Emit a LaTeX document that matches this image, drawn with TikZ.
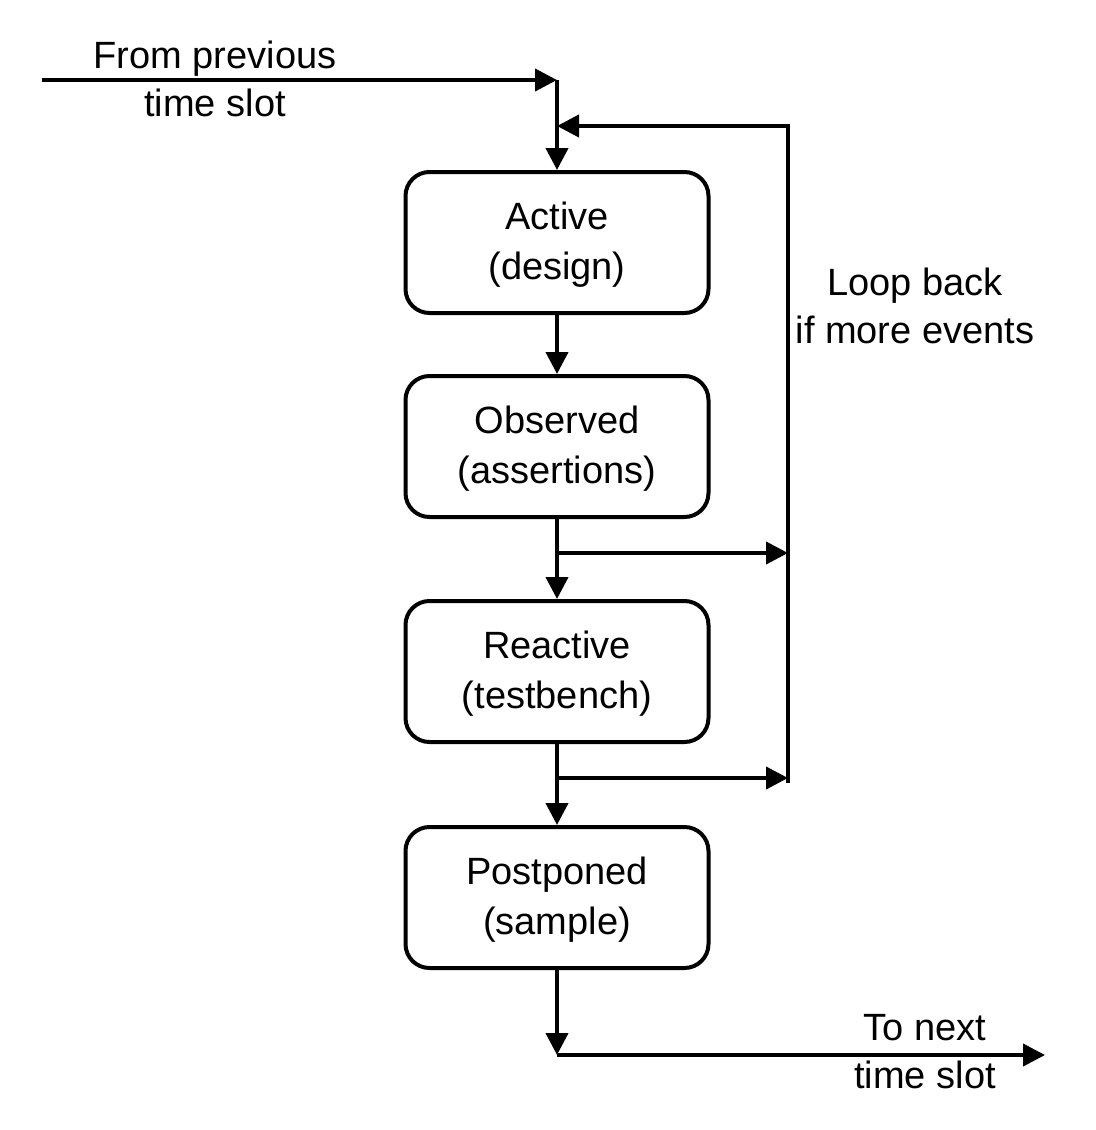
\documentclass[tikz,border=0pt]{standalone}
\usepackage{fontspec}
\setmainfont{Liberation Sans}
\usetikzlibrary{arrows.meta}

\begin{document}
\begin{tikzpicture}[x=0.5pt,y=-0.5pt,line width=2pt,
  arr/.style={-{Triangle[length=11pt,width=11pt]}},
  region/.style={draw,rounded corners=12pt,minimum width=151.5pt,minimum height=70.5pt,
    align=center,inner sep=0pt,font=\fontsize{19}{25}\selectfont},
  lbl/.style={align=center,inner sep=0pt,font=\fontsize{19}{24}\selectfont}]
\useasboundingbox (0,0) rectangle (1096,1130);
\node[region] (act) at (557,242.5) {\rule{0pt}{16pt}Active\\(design)};
\node[region] (obs) at (557,446.5) {\rule{0pt}{16pt}Observed\\(assertions)};
\node[region] (rea) at (557,671.5) {\rule{0pt}{16pt}Reactive\\(testbench)};
\node[region] (pst) at (557,897.5) {\rule{0pt}{16pt}Postponed\\(sample)};
\coordinate (inL) at (42,80);
\coordinate (top) at (557,80);
\coordinate (join) at (557,126);
\coordinate (loopB) at (788,783);
\coordinate (br1) at (557,553);
\coordinate (br1R) at (788,553);
\coordinate (br2) at (557,778);
\coordinate (br2R) at (788,778);
\coordinate (bot) at (557,1055);
\coordinate (outR) at (1045,1055);
% flow
\draw[arr] (inL) -- (top);
\draw[arr] (top) -- (act.north);
\draw[arr] (act) -- (obs);
\draw[arr] (obs) -- (rea);
\draw[arr] (rea) -- (pst);
\draw[arr] (pst) -- (bot);
\draw[arr] (bot) -- (outR);
% loop back
\draw[arr] (br1) -- (br1R);
\draw[arr] (br2) -- (br2R);
\draw[arr] (loopB) |- (join);
\node[lbl] (lFrom) at (215,79) {From previous\\time slot};
\node[lbl] (lLoop) at (915,306) {Loop back\\if more events};
\node[lbl] (lNext) at (925,1052) {To next\\time slot};
\end{tikzpicture}
\end{document}
